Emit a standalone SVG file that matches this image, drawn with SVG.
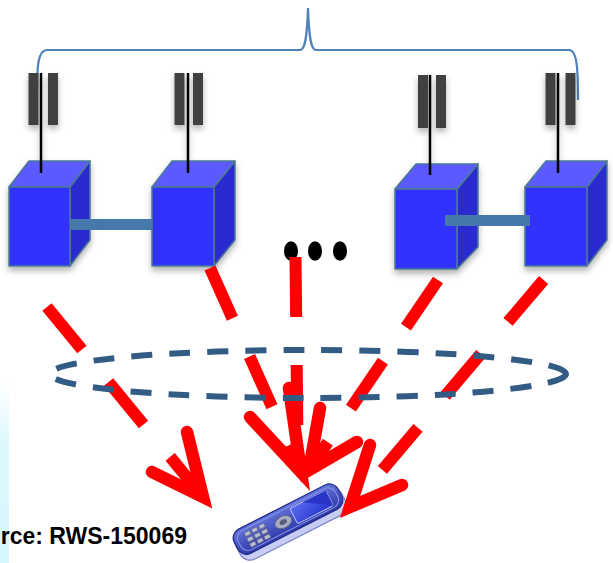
<svg xmlns="http://www.w3.org/2000/svg" width="613" height="563" viewBox="0 0 613 563">
  <style>
    .front { fill: #3333FF; stroke: #4B7A94; stroke-width: 1.5; stroke-linejoin: round; }
    .top { fill: #5A5AFF; stroke: #4B7A94; stroke-width: 1.5; stroke-linejoin: round; }
    .side { fill: #2B2BD0; stroke: #4B7A94; stroke-width: 1.5; stroke-linejoin: round; }
    .bar { fill: #404040; }
    .pole { stroke: #000; stroke-width: 2.5; }
    .link { fill: #4778AC; }
    .ray { stroke: #FF0000; stroke-width: 12; fill: none; stroke-linecap: butt; stroke-dasharray: 55 42; }
    .head { stroke: #FF0000; stroke-width: 12.5; fill: none; stroke-linecap: round; stroke-linejoin: miter; }
    .dot { fill: #000; }
    .label { font-family: "Liberation Sans", Arial, sans-serif; font-weight: bold; font-size: 23px; fill: #000; }
  </style>
  <defs>
    <filter id="shadow" x="-20%" y="-20%" width="140%" height="150%">
      <feDropShadow dx="0" dy="4" stdDeviation="3" flood-color="#000" flood-opacity="0.3"/>
    </filter>
    <linearGradient id="edgeTint" x1="0" y1="0" x2="0" y2="1">
      <stop offset="0" stop-color="#FFFFFF"/>
      <stop offset="0.35" stop-color="#DDF8FD"/>
      <stop offset="1" stop-color="#D6F6FC"/>
    </linearGradient>
    <linearGradient id="phoneFace" x1="0" y1="0" x2="0" y2="1">
      <stop offset="0" stop-color="#6474DE"/>
      <stop offset="1" stop-color="#2C38A6"/>
    </linearGradient>
    <linearGradient id="phoneScreen" x1="0" y1="0" x2="1" y2="1">
      <stop offset="0" stop-color="#5A6CF0"/>
      <stop offset="1" stop-color="#2233CC"/>
    </linearGradient>
  </defs>

  <rect width="613" height="563" fill="#FFFFFF"/>
  <rect x="0" y="380" width="9" height="183" fill="url(#edgeTint)"/>

  <!-- brace spanning the four sites -->
  <g id="cluster-brace">
    <path d="M37,92 C37,66 38,50 47,50 L300,50 C305,50 307,38 308,8 C309,38 311,50 316,50 L569,50 C577,50 578,68 578,100" fill="none" stroke="#4F81BD" stroke-width="2.2"/>
  </g>

  <!-- base stations -->
  <g id="bs1" filter="url(#shadow)">
    <polygon class="side" points="70,187 90,161 90,240 70,266"/>
    <polygon class="top" points="9,187 29,161 90,161 70,187"/>
    <rect class="front" x="9" y="187" width="61" height="79"/>
    <line class="pole" x1="41" y1="73" x2="41" y2="173"/>
    <rect class="bar" x="28.5" y="73" width="10" height="52"/>
    <rect class="bar" x="48" y="73" width="10" height="52"/>
  </g>
  <g id="bs2" filter="url(#shadow)">
    <polygon class="side" points="214,187 235,161 235,240 214,266"/>
    <polygon class="top" points="152,187 172,161 235,161 214,187"/>
    <rect class="front" x="152" y="187" width="62" height="79"/>
    <line class="pole" x1="188" y1="73" x2="188" y2="173"/>
    <rect class="bar" x="174.5" y="73" width="10" height="52"/>
    <rect class="bar" x="193" y="73" width="10" height="52"/>
  </g>
  <g id="bs3" filter="url(#shadow)">
    <polygon class="side" points="457,189 478,164 478,247 457,269"/>
    <polygon class="top" points="395,189 416,164 478,164 457,189"/>
    <rect class="front" x="395" y="189" width="62" height="80"/>
    <line class="pole" x1="430" y1="75" x2="430" y2="175"/>
    <rect class="bar" x="418" y="75" width="10" height="53"/>
    <rect class="bar" x="436" y="75" width="10" height="53"/>
  </g>
  <g id="bs4" filter="url(#shadow)">
    <polygon class="side" points="587,187 607,161 607,240 587,266"/>
    <polygon class="top" points="525,187 546,161 607,161 587,187"/>
    <rect class="front" x="525" y="187" width="62" height="79"/>
    <line class="pole" x1="558" y1="73" x2="558" y2="173"/>
    <rect class="bar" x="545.5" y="73" width="10" height="52"/>
    <rect class="bar" x="565.5" y="73" width="10" height="52"/>
  </g>

  <!-- ellipsis between the site pairs -->
  <g id="more-sites">
    <ellipse class="dot" cx="291" cy="251" rx="7" ry="9.8"/>
    <ellipse class="dot" cx="315" cy="251" rx="7" ry="9.8"/>
    <ellipse class="dot" cx="340" cy="251" rx="7" ry="9.8"/>
  </g>

  <!-- user equipment -->
  <g id="ue" transform="translate(290,522) rotate(-27)">
    <rect x="-59" y="-12" width="118" height="29" rx="11" fill="#C8CCF2" stroke="#7C85C8" stroke-width="1.2"/>
    <rect x="-59" y="-17" width="117" height="27" rx="10" fill="url(#phoneFace)" stroke="#1F2A8A" stroke-width="1.2"/>
    <rect x="-55" y="-14" width="109" height="21" rx="8" fill="none" stroke="#8C96E6" stroke-width="1"/>
    <rect x="6" y="-12" width="40" height="17" rx="2" fill="url(#phoneScreen)" stroke="#B8BEF2" stroke-width="1"/>
    <polygon points="20,-12 46,-12 46,5" fill="#2A36C8"/>
    <ellipse cx="-6" cy="-3" rx="9" ry="6" fill="#A8ABC4" stroke="#5E6280" stroke-width="1"/>
    <ellipse cx="-6" cy="-3" rx="4" ry="2.5" fill="#5A5E7A"/>
    <g fill="#B9BCD0" stroke="#676B88" stroke-width="0.8">
      <rect x="-46" y="-11" width="6" height="4" rx="1"/>
      <rect x="-38" y="-11" width="6" height="4" rx="1"/>
      <rect x="-30" y="-11" width="6" height="4" rx="1"/>
      <rect x="-46" y="-5" width="6" height="4" rx="1"/>
      <rect x="-38" y="-5" width="6" height="4" rx="1"/>
      <rect x="-30" y="-5" width="6" height="4" rx="1"/>
      <rect x="-46" y="1" width="6" height="4" rx="1"/>
      <rect x="-38" y="1" width="6" height="4" rx="1"/>
      <rect x="-30" y="1" width="6" height="4" rx="1"/>
    </g>
  </g>

  <!-- backhaul links and radio paths -->
  <g id="connectors">
    <rect class="link" x="70" y="219" width="82" height="11"/>
    <rect class="link" x="445" y="215" width="85" height="11"/>

    <line class="ray" x1="47" y1="307" x2="199" y2="492"/>
    <path class="head" d="M187,432 L203,497 L152,472"/>

    <line class="ray" x1="210" y1="268" x2="298" y2="465"/>
    <path class="head" d="M250,417 L301,472 L289,388"/>

    <line class="ray" x1="295.5" y1="257" x2="297.5" y2="440" style="stroke-dasharray: 60 48"/>

    <line class="ray" x1="438" y1="280" x2="313" y2="464" style="stroke-dasharray: 57 41"/>
    <path class="head" d="M320,408 L309,470 L357,442"/>

    <line class="ray" x1="543.6" y1="280" x2="355" y2="502"/>
    <path class="head" d="M370,445 L350,507 L402,485"/>
  </g>

  <!-- coverage area -->
  <g id="coverage">
    <ellipse cx="308" cy="374" rx="258" ry="24" fill="none" stroke="#335C85" stroke-width="6" stroke-dasharray="21 17"/>
  </g>

  <text class="label" x="187" y="544" text-anchor="end">rce: RWS-150069</text>
</svg>
